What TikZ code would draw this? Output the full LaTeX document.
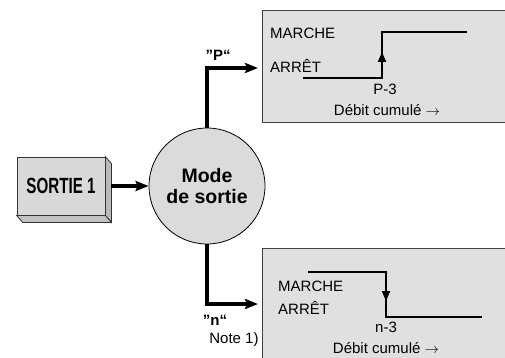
\documentclass[tikz,border=0pt]{standalone}
\usepackage{fontspec}
\usepackage{graphicx}
\setmainfont{Liberation Sans}
\usetikzlibrary{arrows.meta}

\tikzset{
  lbl/.style={inner sep=0pt, font=\fontsize{15}{16}\selectfont},
  boldlbl/.style={inner sep=0pt, font=\fontsize{15}{16}\selectfont\bfseries},
  graphbox/.style={draw=black!75, fill=black!12, line width=0.8pt, inner sep=0pt},
  sortiebox/.style={draw=black!80, fill=black!15, line width=0.8pt, inner sep=0pt,
    minimum width=88pt, minimum height=58pt},
  modecircle/.style={circle, draw=black, fill=black!14, line width=0.8pt, inner sep=0pt,
    minimum size=116pt, align=center, font=\fontsize{19.5}{21}\selectfont\bfseries},
  conn/.style={line width=4.5pt, -{Stealth[length=13pt,width=10pt,inset=2pt]}},
  stepline/.style={line width=2pt},
  steparrow/.style={line width=2pt, -{Triangle[length=10pt,width=8pt]}}
}

\begin{document}
\begin{tikzpicture}[x=1pt,y=-1pt]
  \clip (0,0) rectangle (505,358);

  % Sortie 1
  \node[sortiebox] (sortie) at (61,186) {\scalebox{0.69}[1]{\fontsize{22}{22}\selectfont\bfseries SORTIE 1}\hspace{8pt}};
  \filldraw[fill=black!27, draw=black!80, line width=0.8pt] (sortie.north east) -- ++(6,7)
    -- ([shift={(6,7)}]sortie.south east) -- (sortie.south east) -- cycle;
  \filldraw[fill=black!24, draw=black!80, line width=0.8pt] (sortie.south west) -- ++(6,7)
    -- ([shift={(6,7)}]sortie.south east) -- (sortie.south east) -- cycle;

  % Mode de sortie
  \node[modecircle] (mode) at (207,186) {Mode\\de sortie};

  % Graphes
  \node[graphbox, minimum width=300pt, minimum height=112pt] (graphP) at (412,66) {};
  \node[graphbox, minimum width=300pt, minimum height=160pt] (graphN) at (412,328) {};

  % Liaisons
  \coordinate (pEnd) at (258,68);
  \coordinate (nEnd) at (258,304);
  \draw[conn] ([xshift=6pt]sortie.east) -- (mode);
  \draw[conn] (mode.north) |- (pEnd);
  \draw[conn] (mode.south) |- (nEnd);
  \node[boldlbl] (pLabel) at (218,55) {”P“};
  \node[boldlbl] (nLabel) at (215,320) {”n“};
  \node[lbl] (note) at (234,340) {Note 1)};

  % Mode P
  \draw[stepline] (303,78) -| (382,32) -- (467,32);
  \draw[steparrow] (382,78) -- (382,52);
  \node[lbl, anchor=west] (pOn) at (270,33) {MARCHE};
  \node[lbl, anchor=west] (pOff) at (270,66) {ARRÊT};
  \node[lbl] (pTick) at (385,89) {P-3};
  \node[lbl] (pAxis) at (387,110) {Débit cumulé $\rightarrow$};

  % Mode n
  \draw[stepline] (308,272) -| (386,317) -- (482,317);
  \draw[steparrow] (386,272) -- (386,301);
  \node[lbl, anchor=west] (nOn) at (278,286) {MARCHE};
  \node[lbl, anchor=west] (nOff) at (278,308) {ARRÊT};
  \node[lbl] (nTick) at (386,327) {n-3};
  \node[lbl] (nAxis) at (386,348) {Débit cumulé $\rightarrow$};
\end{tikzpicture}
\end{document}
